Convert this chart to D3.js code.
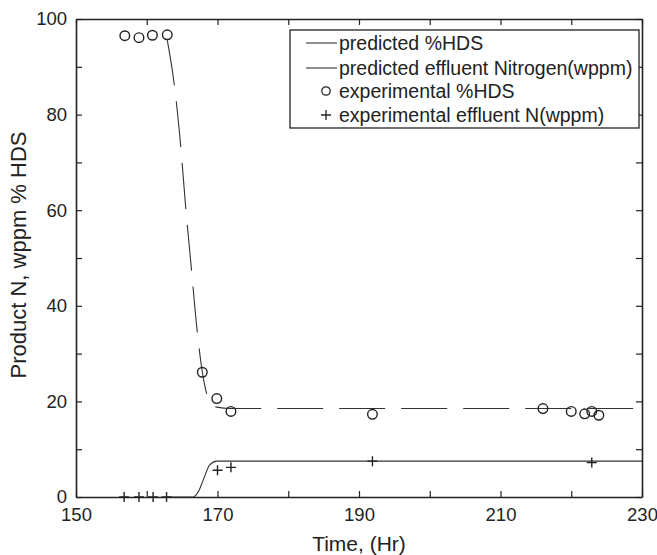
<!DOCTYPE html>
<html>
<head>
<meta charset="utf-8">
<script src="https://d3js.org/d3.v7.min.js"></script>
<style>
  body { margin: 0; background: #fff; }
  svg { font-family: "Liberation Sans", Arial, sans-serif; }
  .axis path, .axis line { stroke: #222; }
  .axis text { fill: #222; font-size: 18.5px; }
</style>
</head>
<body>
<div id="chart"></div>
<script>
// experimental %HDS (time hr, %)
var hdsTime = [156.9, 158.9, 160.8, 162.9, 167.85, 169.9, 171.9, 191.9, 216.0, 220.0, 221.9, 222.9, 223.9];
var hdsVal  = [96.5, 96.1, 96.6, 96.7, 26.1, 20.6, 17.9, 17.3, 18.5, 17.9, 17.4, 17.9, 17.1];

// experimental effluent N (wppm)
var nTime = [156.8, 158.9, 160.9, 162.8, 170.0, 171.9, 191.9, 222.9];
var nVal  = [0, 0, 0, 0, 5.6, 6.2, 7.5, 7.2];

// predicted %HDS curve
var predHdsTime = [162.9, 163.9, 164.8, 165.5, 166.3, 167.1, 167.85, 168.3, 169.2, 169.9, 171.8, 230];
var predHdsVal  = [95.6, 86.2, 73.4, 60.7, 47.9, 35.1, 26.2, 22.6, 19.5, 18.8, 18.5, 18.5];

// predicted effluent nitrogen curve
var predNTime = [162.9, 166.6, 166.9, 167.4, 168.0, 168.9, 169.9, 171, 230];
var predNVal  = [0, 0, 0.3, 1.4, 3.6, 6.7, 7.5, 7.5, 7.5];

var xTicks = [150, 160, 170, 180, 190, 200, 210, 220, 230];
var yTicks = [0, 10, 20, 30, 40, 50, 60, 70, 80, 90, 100];

var legendLabels = ["predicted %HDS", "predicted effluent Nitrogen(wppm)",
                    "experimental %HDS", "experimental effluent N(wppm)"];

var W = 657, H = 555;
var margin = {top: 19, right: 15, bottom: 58, left: 76};
var w = W - margin.left - margin.right,
    h = H - margin.top - margin.bottom;

var svg = d3.select("#chart").append("svg")
    .attr("width", W).attr("height", H);
var g = svg.append("g")
    .attr("transform", "translate(" + margin.left + "," + margin.top + ")");

var x = d3.scaleLinear().domain([150, 230]).range([0, w]);
var y = d3.scaleLinear().domain([0, 100]).range([h, 0]);

// axes, ticks pointing inward
g.append("g").attr("class", "axis")
    .attr("transform", "translate(0," + h + ")")
    .call(d3.axisBottom(x).tickValues(xTicks).tickSizeInner(-6).tickSizeOuter(0).tickPadding(11)
        .tickFormat(function(d) { return (d - 150) % 20 === 0 ? d : ""; }));
g.append("g").attr("class", "axis")
    .call(d3.axisTop(x).tickValues(xTicks).tickSizeInner(-6).tickSizeOuter(0).tickFormat(""));
g.append("g").attr("class", "axis")
    .call(d3.axisLeft(y).tickValues(yTicks).tickSizeInner(-6).tickSizeOuter(0).tickPadding(9)
        .tickFormat(function(d) { return d % 20 === 0 ? d : ""; }));
g.append("g").attr("class", "axis")
    .attr("transform", "translate(" + w + ",0)")
    .call(d3.axisRight(y).tickValues(yTicks).tickSizeInner(-6).tickSizeOuter(0).tickFormat(""));
g.selectAll(".axis .domain").attr("stroke-width", 1.6);
g.selectAll(".axis .tick line").attr("stroke-width", 1.2);

// axis titles
svg.append("text")
    .attr("x", margin.left + w / 2).attr("y", 551)
    .attr("text-anchor", "middle")
    .attr("font-size", 21).attr("fill", "#222")
    .text("Time, (Hr)");
svg.append("text")
    .attr("transform", "translate(26,255) rotate(-90)")
    .attr("text-anchor", "middle")
    .attr("font-size", 22).attr("fill", "#222")
    .text("Product N, wppm % HDS");

var line = d3.line()
    .x(function(d) { return x(d[0]); })
    .y(function(d) { return y(d[1]); })
    .curve(d3.curveMonotoneX);

var predHds = d3.zip(predHdsTime, predHdsVal);
var predN = d3.zip(predNTime, predNVal);

g.append("path").datum(predHds)
    .attr("d", line)
    .attr("fill", "none").attr("stroke", "#333").attr("stroke-width", 1.1)
    .attr("stroke-dasharray", "46,16");

g.append("path").datum(predN)
    .attr("d", line)
    .attr("fill", "none").attr("stroke", "#333").attr("stroke-width", 1.1);

// circles
g.selectAll(".hds").data(d3.zip(hdsTime, hdsVal))
  .enter().append("circle")
    .attr("class", "hds")
    .attr("cx", function(d) { return x(d[0]); })
    .attr("cy", function(d) { return y(d[1]); })
    .attr("r", 4.8)
    .attr("fill", "none").attr("stroke", "#222").attr("stroke-width", 1.4);

// plus markers
g.selectAll(".nexp").data(d3.zip(nTime, nVal))
  .enter().append("path")
    .attr("class", "nexp")
    .attr("transform", function(d) { return "translate(" + x(d[0]) + "," + y(d[1]) + ")"; })
    .attr("d", "M-5,0H5M0,-5V5")
    .attr("stroke", "#222").attr("stroke-width", 1.4);

// legend
var lg = svg.append("g").attr("transform", "translate(290,30)");
lg.append("rect")
    .attr("width", 349).attr("height", 98)
    .attr("fill", "#fff").attr("stroke", "#222").attr("stroke-width", 1.3);

var rowY = [13, 38, 61, 85];
legendLabels.forEach(function(lab, i) {
    var r = lg.append("g").attr("transform", "translate(0," + rowY[i] + ")");
    if (i < 2) {
        r.append("line").attr("x1", 16).attr("x2", 47)
            .attr("stroke", "#333").attr("stroke-width", 1.1);
    } else if (i === 2) {
        r.append("circle").attr("cx", 36).attr("r", 4.2)
            .attr("fill", "none").attr("stroke", "#222").attr("stroke-width", 1.3);
    } else {
        r.append("path").attr("transform", "translate(36,0)")
            .attr("d", "M-5,0H5M0,-5V5")
            .attr("stroke", "#222").attr("stroke-width", 1.3);
    }
    r.append("text").attr("x", 49).attr("dy", "0.36em")
        .attr("font-size", 19.5).attr("fill", "#222")
        .text(lab);
});
</script>
</body>
</html>
